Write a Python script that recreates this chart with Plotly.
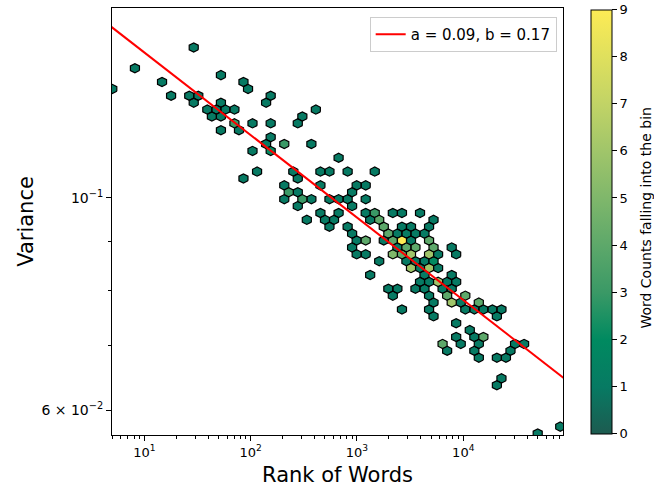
import numpy as np
import plotly.graph_objects as go

# ---------------- data (read from the reference hexbin) ----------------
# hexbin bin centres: log10(rank of word), log10(variance), and word count per bin
log_rank = [
    1.464,
    0.911,
    1.720,
    1.166, 1.932,
    0.698, 1.975,
    1.251, 1.422, 1.507, 2.188,
    1.464, 1.720, 2.145,
    1.592, 1.677, 1.762, 1.847, 2.613,
    1.635, 1.720, 2.486,
    1.847, 2.017, 2.188, 2.443,
    1.720, 1.890,
    2.188,
    2.145, 2.316, 2.571,
    2.017, 2.188,
    2.827,
    2.060, 2.401, 2.656, 2.741, 2.912, 3.167,
    1.932, 2.443,
    2.316, 2.656, 2.997, 3.082,
    2.358, 2.443, 2.954,
    2.316, 2.486, 2.571, 2.741, 2.827, 2.912, 3.082,
    2.443, 2.954,
    2.656, 2.827, 3.082, 3.167, 3.337, 3.423, 3.593,
    2.528, 2.699, 2.784, 3.124, 3.209, 3.720,
    2.741, 2.912, 3.252, 3.423, 3.508, 3.678,
    2.954, 3.295, 3.380, 3.465, 3.550, 3.635,
    2.997, 3.082, 3.252, 3.337, 3.423, 3.508, 3.678,
    2.954, 3.380, 3.465, 3.550, 3.720, 3.891,
    2.997, 3.082, 3.337, 3.423, 3.508, 3.678, 3.763, 3.933,
    3.209, 3.465, 3.550, 3.635, 3.720,
    3.508, 3.593, 3.678, 3.763,
    3.124, 3.635, 3.891,
    3.593, 3.678, 3.763, 3.848, 3.933,
    3.295, 3.380, 3.550, 3.635, 3.805, 3.891,
    3.337, 3.678, 3.848, 4.019,
    3.720, 3.891, 3.976, 4.146,
    3.423, 3.678, 4.019, 4.104, 4.189, 4.274, 4.359,
    3.720, 4.316,
    3.933,
    4.061,
    3.933, 4.104, 4.189,
    3.805, 3.976, 4.146, 4.487, 4.572,
    3.848, 4.104, 4.444,
    4.146, 4.316, 4.401,
    4.359,
    4.316,
    4.912,
    4.700,
]
log_variance = [
    -0.8432,
    -0.8648,
    -0.8720,
    -0.8792, -0.8792,
    -0.8864, -0.8864,
    -0.8936, -0.8936, -0.8936, -0.8936,
    -0.9008, -0.9008, -0.9008,
    -0.9080, -0.9080, -0.9080, -0.9080, -0.9080,
    -0.9152, -0.9152, -0.9152,
    -0.9224, -0.9224, -0.9224, -0.9224,
    -0.9296, -0.9296,
    -0.9368,
    -0.9440, -0.9440, -0.9440,
    -0.9512, -0.9512,
    -0.9584,
    -0.9728, -0.9728, -0.9728, -0.9728, -0.9728, -0.9728,
    -0.9800, -0.9800,
    -0.9872, -0.9872, -0.9872, -0.9872,
    -0.9944, -0.9944, -0.9944,
    -1.0016, -1.0016, -1.0016, -1.0016, -1.0016, -1.0016, -1.0016,
    -1.0088, -1.0088,
    -1.0160, -1.0160, -1.0160, -1.0160, -1.0160, -1.0160, -1.0160,
    -1.0232, -1.0232, -1.0232, -1.0232, -1.0232, -1.0232,
    -1.0304, -1.0304, -1.0304, -1.0304, -1.0304, -1.0304,
    -1.0376, -1.0376, -1.0376, -1.0376, -1.0376, -1.0376,
    -1.0448, -1.0448, -1.0448, -1.0448, -1.0448, -1.0448, -1.0448,
    -1.0520, -1.0520, -1.0520, -1.0520, -1.0520, -1.0520,
    -1.0592, -1.0592, -1.0592, -1.0592, -1.0592, -1.0592, -1.0592, -1.0592,
    -1.0664, -1.0664, -1.0664, -1.0664, -1.0664,
    -1.0736, -1.0736, -1.0736, -1.0736,
    -1.0808, -1.0808, -1.0808,
    -1.0880, -1.0880, -1.0880, -1.0880, -1.0880,
    -1.0952, -1.0952, -1.0952, -1.0952, -1.0952, -1.0952,
    -1.1024, -1.1024, -1.1024, -1.1024,
    -1.1096, -1.1096, -1.1096, -1.1096,
    -1.1168, -1.1168, -1.1168, -1.1168, -1.1168, -1.1168, -1.1168,
    -1.1240, -1.1240,
    -1.1312,
    -1.1384,
    -1.1456, -1.1456, -1.1456,
    -1.1528, -1.1528, -1.1528, -1.1528, -1.1528,
    -1.1600, -1.1600, -1.1600,
    -1.1672, -1.1672, -1.1672,
    -1.1888,
    -1.1960,
    -1.2392,
    -1.2464,
]
counts = [
    1,
    1,
    1,
    1, 1,
    1, 1,
    1, 1, 1, 1,
    1, 1, 1,
    1, 1, 1, 1, 1,
    1, 1, 1,
    3, 1, 1, 1,
    1, 1,
    1,
    1, 3, 1,
    1, 2,
    1,
    1, 1, 1, 1, 1, 1,
    1, 1,
    1, 1, 1, 1,
    3, 1, 1,
    1, 3, 1, 1, 1, 1, 1,
    1, 1,
    1, 1, 1, 3, 1, 1, 1,
    1, 1, 1, 1, 4, 1,
    1, 1, 4, 1, 1, 1,
    1, 4, 1, 1, 1, 1,
    1, 4, 1, 4, 9, 1, 4,
    1, 1, 4, 4, 4, 1,
    1, 1, 5, 4, 6, 6, 1, 1,
    1, 1, 1, 1, 2,
    6, 1, 6, 1,
    1, 1, 1,
    1, 1, 6, 1, 1,
    1, 1, 1, 1, 1, 1,
    1, 1, 4, 4,
    1, 6, 1, 4,
    1, 1, 1, 1, 1, 1, 1,
    1, 1,
    1,
    1,
    1, 1, 4,
    4, 1, 1, 1, 1,
    1, 1, 1,
    1, 1, 1,
    1,
    1,
    1,
    1,
]

# power-law fit  variance = b * rank^(-a)
fit_a = 0.0862
fit_b = 0.1729
fit_rank_span = [1, 100000]

# colour of each count level 0..9 (colorbar)
count_colors = ["#1d5b50", "#077a63", "#008a60", "#3a9966", "#5da86a",
                "#7fb76b", "#a0c56a", "#c1d366", "#dfe05d", "#fdeb55"]
cbar_ticks = [0, 1, 2, 3, 4, 5, 6, 7, 8, 9]

x_tick_vals = [10, 100, 1000, 10000]
x_tick_text = ["10<sup>1</sup>", "10<sup>2</sup>", "10<sup>3</sup>", "10<sup>4</sup>"]
x_minor = [d * 10 ** e for e in range(0, 5) for d in range(2, 10)]
y_tick_vals = [0.06, 0.1]
y_tick_text = ["6 \u00d7 10<sup>\u22122</sup>", "10<sup>\u22121</sup>"]
y_minor = [0.07, 0.08, 0.09]

# ---------------- figure ----------------
FONT = "DejaVu Sans"
half_w = 0.04257   # half hexagon width in log10(rank)
half_h = 0.0048    # hexagon vertex offset in log10(variance)

fig = go.Figure()

for c in sorted(set(counts)):
    xs, ys = [], []
    for lx, ly, cc in zip(log_rank, log_variance, counts):
        if cc != c:
            continue
        vx = [lx + half_w, lx + half_w, lx, lx - half_w, lx - half_w, lx, lx + half_w]
        vy = [ly - half_h / 2, ly + half_h / 2, ly + half_h, ly + half_h / 2,
              ly - half_h / 2, ly - half_h, ly - half_h / 2]
        xs += [10 ** v for v in vx] + [None]
        ys += [10 ** v for v in vy] + [None]
    fig.add_trace(go.Scatter(
        x=xs, y=ys, mode="lines", fill="toself", fillcolor=count_colors[c],
        line=dict(color="black", width=1.2), showlegend=False, hoverinfo="skip"))

# colorbar carrier
cscale = [[i / 9, col] for i, col in enumerate(count_colors)]
fig.add_trace(go.Scatter(
    x=[10 ** v for v in log_rank], y=[10 ** v for v in log_variance], mode="markers",
    marker=dict(size=0, color=counts, colorscale=cscale, cmin=0, cmax=9, showscale=True,
                colorbar=dict(
                    thickness=21, thicknessmode="pixels", len=424, lenmode="pixels",
                    x=1.063, xanchor="left", xpad=0, y=0.5, yanchor="middle", ypad=0,
                    outlinecolor="black", outlinewidth=1,
                    tickmode="array", tickvals=cbar_ticks, ticks="outside", ticklen=5,
                    tickwidth=1, tickcolor="black",
                    tickfont=dict(family=FONT, size=13, color="black"))),
    showlegend=False, hoverinfo="skip"))

# fitted line
fig.add_trace(go.Scatter(
    x=fit_rank_span, y=[fit_b * r ** (-fit_a) for r in fit_rank_span], mode="lines",
    line=dict(color="#ff0000", width=2),
    name=f"a = {fit_a:.2f}, b = {fit_b:.2f}", showlegend=True, hoverinfo="skip"))

axis_common = dict(showline=True, linecolor="black", linewidth=1, mirror=True,
                   ticks="outside", ticklen=5, tickwidth=1, tickcolor="black",
                   showgrid=False, zeroline=False)

fig.update_layout(
    width=654, height=490,
    margin=dict(l=112, r=91, t=8, b=55, autoexpand=False),
    paper_bgcolor="white", plot_bgcolor="white",
    font=dict(family=FONT, color="black"),
    xaxis=dict(type="log", range=[np.log10(4.958), 4.938],
               tickmode="array", tickvals=x_tick_vals, ticktext=x_tick_text,
               tickfont=dict(family=FONT, size=13, color="black"),
               minor=dict(tickmode="array", tickvals=x_minor, ticks="outside", ticklen=3,
                          tickwidth=1, tickcolor="black", showgrid=False),
               title=dict(text="Rank of Words", font=dict(family=FONT, size=21, color="black"),
                          standoff=8),
               **axis_common),
    yaxis=dict(type="log", range=[np.log10(0.0565), np.log10(0.1578)],
               tickmode="array", tickvals=y_tick_vals, ticktext=y_tick_text,
               tickfont=dict(family=FONT, size=14, color="black"),
               minor=dict(tickmode="array", tickvals=y_minor, ticks="outside", ticklen=3,
                          tickwidth=1, tickcolor="black", showgrid=False),
               title=dict(text="Variance", font=dict(family=FONT, size=21, color="black"),
                          standoff=2),
               **axis_common),
    legend=dict(x=0.986, xanchor="right", y=0.979, yanchor="top", itemwidth=30,
                bgcolor="rgba(255,255,255,0.8)", bordercolor="#cccccc", borderwidth=1,
                font=dict(family=FONT, size=15, color="black")),
    annotations=[dict(
        text="Word Counts falling into the bin", textangle=-90,
        xref="paper", yref="paper", x=1.182, y=0.507, xanchor="center", yanchor="middle",
        showarrow=False, font=dict(family=FONT, size=14, color="black"))],
)

fig.write_html("out.html")
